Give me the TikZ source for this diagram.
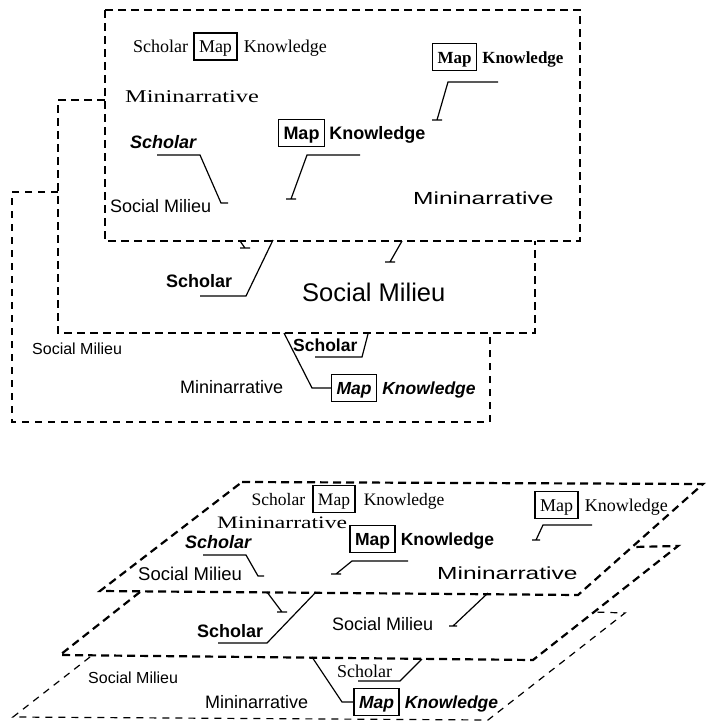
\documentclass[tikz,border=0pt]{standalone}
\usepackage{fontspec}
\setmainfont{Liberation Serif}
\setsansfont{Liberation Sans}
\newfontfamily\widesans[FakeStretch=1.4]{Liberation Sans}
\newfontfamily\wideserif[FakeStretch=1.35]{Liberation Serif}
\usetikzlibrary{positioning}
\newcommand{\fsz}[1]{\fontsize{#1}{#1}\selectfont}

\begin{document}
\begin{tikzpicture}[x=1pt, y=-1pt,
    frame/.style={dash pattern=on 8pt off 5pt, line width=2.2pt},
    thinframe/.style={dash pattern=on 7pt off 6pt, line width=1.2pt},
    link/.style={line width=1.2pt},
    txt/.style={inner sep=0pt, anchor=base west},
    mapbox/.style={draw, line width=1.2pt, inner xsep=5pt, inner ysep=5.5pt, text height=14pt, text depth=2pt},
    serif/.style={font=\rmfamily\fsz{#1}},
    boldserif/.style={font=\rmfamily\bfseries\fsz{#1}},
    wserif/.style={font=\wideserif\fsz{#1}},
    sans/.style={font=\sffamily\fsz{#1}},
    boldsans/.style={font=\sffamily\bfseries\fsz{#1}},
    bisans/.style={font=\sffamily\bfseries\itshape\fsz{#1}},
    wsans/.style={font=\widesans\fsz{#1}}]
    \useasboundingbox (0,0) rectangle (705,723);

    % Stacked frames, front one first
    \draw[frame] (105,10) rectangle (580,241);
    \draw[frame] (105,100) -- (58,100) -- (58,333) -- (535,333) -- (535,241);
    \draw[thinframe] (58,192) -- (12,192) -- (12,422) -- (490,422) -- (490,333);

    % Front frame
    \node[mapbox, serif=18] (m1) at (215.5,46.5) {Map};
    \node[txt, serif=18, base left=5pt of m1] (s1) {Scholar};
    \node[txt, serif=18, base right=6pt of m1] (k1) {Knowledge};
    \node[txt, wserif=18] (n1) at (125,102) {Mininarrative};
    \node[txt, bisans=18] (s2) at (130,148) {Scholar};
    \node[txt, sans=18] (sm1) at (110,212) {Social Milieu};
    \node[mapbox, boldsans=18] (m2) at (301.5,133) {Map};
    \node[txt, boldsans=18, base right=4pt of m2] (k2) {Knowledge};
    \node[mapbox, boldserif=17] (m3) at (454.5,57) {Map};
    \node[txt, boldserif=17, base right=5pt of m3] (k3) {Knowledge};
    \node[txt, wsans=17.5] (n2) at (413,204) {Mininarrative};

    % Middle and back frames
    \node[txt, boldsans=18] (s3) at (166,287) {Scholar};
    \node[txt, sans=25.5] (sm2) at (302,301) {Social Milieu};
    \node[txt, sans=16] (sm3) at (32,354) {Social Milieu};
    \node[txt, sans=18] (n3) at (180,393) {Mininarrative};
    \node[txt, boldsans=17.5] (s4) at (293,351) {Scholar};
    \node[mapbox, bisans=17.5] (m4) at (354,388) {Map};
    \node[txt, bisans=17.5, base right=5pt of m4] (k4) {Knowledge};

    % Coordinates for the leader lines (top)
    \coordinate (a1) at (157,155);
    \coordinate (a2) at (200,155);
    \coordinate (a3) at (221,203);
    \coordinate (b1) at (360,155);
    \coordinate (b2) at (307,155);
    \coordinate (b3) at (291,199);
    \coordinate (c1) at (498,82);
    \coordinate (c2) at (448,82);
    \coordinate (c3) at (437,120);
    \coordinate (d1) at (240,241);
    \coordinate (d2) at (245,248);
    \coordinate (e1) at (200,296);
    \coordinate (e2) at (246,296);
    \coordinate (e3) at (273,240);
    \coordinate (f1) at (402,241);
    \coordinate (f2) at (390,262);
    \coordinate (g1) at (284,333);
    \coordinate (g2) at (312,388);
    \coordinate (h1) at (315,357);
    \coordinate (h2) at (362,357);
    \coordinate (h3) at (368,334);

    \draw[link] (a1) -- (a2) -- (a3) -- ++(7,0);
    \draw[link] (b1) -- (b2) -- (b3) +(-5,0) -- +(5,0);
    \draw[link] (c1) -- (c2) -- (c3) +(-5,0) -- +(5,0);
    \draw[link] (d1) -- (d2) +(-5,0) -- +(5,0);
    \draw[link] (e1) -- (e2) -- (e3);
    \draw[link] (f1) -- (f2) +(-5,0) -- +(5,0);
    \draw[link] (g1) -- (g2) -- (m4.west);
    \draw[link] (h1) -- (h2) -- (h3);

    % Planes in perspective
    \draw[frame] (242,482) -- (703,484) -- (578,595) -- (100,591) -- cycle;
    \draw[frame] (140,592) -- (60,655) -- (533,660) -- (678,546) -- (633,547);
    \draw[thinframe] (90,657) -- (13,717) -- (488,720) -- (625,613) -- (594,612);

    % Front plane
    \node[mapbox, serif=17.5] (m5) at (334,499) {Map};
    \node[txt, serif=17.5, base left=7pt of m5] (s5) {Scholar};
    \node[txt, serif=17.5, base right=8pt of m5] (k5) {Knowledge};
    \node[txt, wserif=17.5] (n4) at (217,528) {Mininarrative};
    \node[txt, bisans=18] (s6) at (185,548) {Scholar};
    \node[txt, sans=18.5] (sm4) at (138,580) {Social Milieu};
    \node[mapbox, boldsans=17.5] (m6) at (372.5,539) {Map};
    \node[txt, boldsans=17.5, base right=5pt of m6] (k6) {Knowledge};
    \node[mapbox, serif=18] (m7) at (556.5,505) {Map};
    \node[txt, serif=18, base right=6pt of m7] (k7) {Knowledge};
    \node[txt, wsans=17.5] (n5) at (437,579) {Mininarrative};

    % Middle and back planes
    \node[txt, boldsans=18] (s7) at (197,637) {Scholar};
    \node[txt, sans=18] (sm5) at (332,630) {Social Milieu};
    \node[txt, sans=16] (sm6) at (88,683) {Social Milieu};
    \node[txt, sans=18] (n6) at (205,708) {Mininarrative};
    \node[txt, serif=18] (s8) at (337,677) {Scholar};
    \node[mapbox, bisans=17.5] (m8) at (376.5,702) {Map};
    \node[txt, bisans=17.5, base right=5pt of m8] (k8) {Knowledge};

    % Coordinates for the leader lines (bottom)
    \coordinate (p1) at (203,555);
    \coordinate (p2) at (246,555);
    \coordinate (p3) at (258,576);
    \coordinate (q1) at (408,561);
    \coordinate (q2) at (352,561);
    \coordinate (q3) at (336,574);
    \coordinate (r1) at (592,525);
    \coordinate (r2) at (543,525);
    \coordinate (r3) at (536,540);
    \coordinate (t1) at (267,592);
    \coordinate (t2) at (282,612);
    \coordinate (v1) at (218,643);
    \coordinate (v2) at (267,643);
    \coordinate (v3) at (316,592);
    \coordinate (w1) at (488,593);
    \coordinate (w2) at (453,626);
    \coordinate (y1) at (312,657);
    \coordinate (y2) at (342,702);
    \coordinate (z1) at (358,681);
    \coordinate (z2) at (400,681);
    \coordinate (z3) at (422,659);

    \draw[link] (p1) -- (p2) -- (p3) -- ++(6,0);
    \draw[link] (q1) -- (q2) -- (q3) +(-5,0) -- +(5,0);
    \draw[link] (r1) -- (r2) -- (r3) +(-4,0) -- +(4,0);
    \draw[link] (t1) -- (t2) +(-5,0) -- +(5,0);
    \draw[link] (v1) -- (v2) -- (v3);
    \draw[link] (w1) -- (w2) +(-4,0) -- +(4,0);
    \draw[link] (y1) -- (y2) -- (m8.west);
    \draw[link] (z1) -- (z2) -- (z3);
\end{tikzpicture}
\end{document}
